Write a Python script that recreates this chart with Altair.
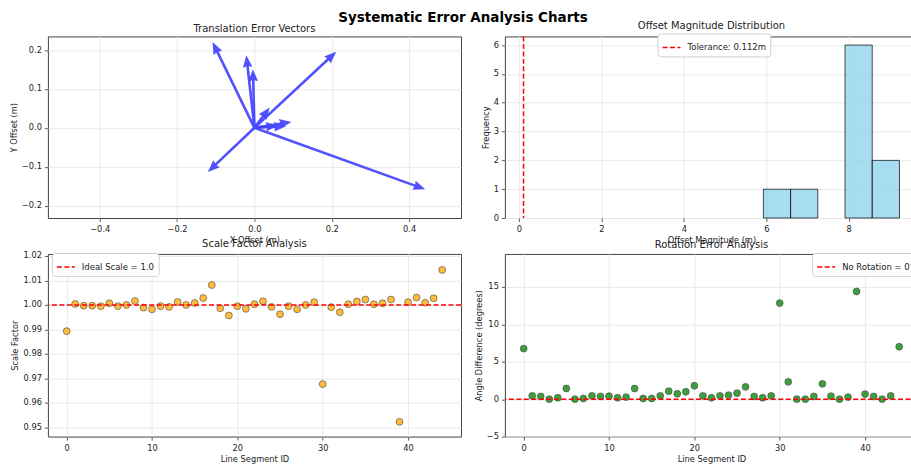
import altair as alt
import numpy as np
import pandas as pd

# ---------------- data ----------------
# translation error vectors (m), all drawn from the origin
vec_dx = [-0.108, -0.021, -0.004, 0.211, 0.039, 0.095, 0.081, 0.441, -0.120, 0.060]
vec_dy = [0.220, 0.186, 0.150, 0.195, 0.052, 0.015, 0.004, -0.158, -0.113, 0.006]

# offset magnitude histogram (m)
bin_start = [5.93, 6.59, 7.25, 7.91, 8.57]
bin_end = [6.59, 7.25, 7.91, 8.57, 9.23]
bin_count = [1, 1, 0, 6, 2]
tolerance = 0.112

segment_id = list(range(45))
scale_factor = [
    0.9893, 1.0004, 0.9997, 0.9997, 0.9995, 1.0007, 0.9995, 1.0000, 1.0016, 0.9989,
    0.9982, 0.9995, 0.9992, 1.0012, 1.0000, 1.0008, 1.0028, 1.0081, 0.9986, 0.9957,
    0.9995, 0.9984, 1.0003, 1.0015, 0.9992, 0.9962, 0.9995, 0.9982, 1.0000, 1.0011,
    0.9677, 0.9991, 0.9970, 1.0003, 1.0014, 1.0022, 1.0003, 1.0007, 1.0022, 0.9523,
    1.0011, 1.0030, 1.0009, 1.0027, 1.0143,
]
angle_diff = [
    6.75, 0.44, 0.36, 0.00, 0.18, 1.42, 0.00, 0.09, 0.44, 0.36,
    0.40, 0.18, 0.27, 1.42, 0.09, 0.09, 0.44, 1.07, 0.71, 0.98,
    1.78, 0.44, 0.18, 0.44, 0.53, 0.80, 1.64, 0.36, 0.18, 0.44,
    12.83, 2.31, 0.00, 0.00, 0.36, 2.04, 0.40, 0.00, 0.27, 14.38,
    0.67, 0.36, 0.00, 0.44, 7.01,
]
ideal_scale = 1.0
no_rotation = 0.0

FONT = "DejaVu Sans"
BLUE = "#4848ff"
GRID = "#e9e9e9"
TXT = "#222222"
W, H1, H2 = 414, 182, 183

def ax(values, fmt, title):
    return alt.Axis(values=values, format=fmt, title=title, grid=True, domain=False,
                    labelOverlap=False, titleColor=TXT, labelColor=TXT)

def legend(x, y):
    return alt.Legend(
        orient="none", legendX=x, legendY=y, title=None,
        symbolType="stroke", symbolDash=[5, 2.5], symbolStrokeWidth=1.5,
        symbolSize=324, labelFontSize=8.5, labelFont=FONT, labelColor=TXT,
        fillColor="white", strokeColor="#d0d0d0", cornerRadius=3, padding=4,
        labelOffset=6,
    )

# ---------------- panel 1: vectors ----------------
vdf = pd.DataFrame({"dx": vec_dx, "dy": vec_dy})
L = np.hypot(vdf.dx, vdf.dy)
vdf["x0"] = 0.0
vdf["y0"] = 0.0
vdf["hx"] = vdf.dx - 0.020 * vdf.dx / L
vdf["hy"] = vdf.dy - 0.020 * vdf.dy / L
vdf["sx"] = vdf.dx - 0.024 * vdf.dx / L
vdf["sy"] = vdf.dy - 0.024 * vdf.dy / L
vdf["ang"] = (np.degrees(np.arctan2(vdf.dx, vdf.dy)) + 360) % 360

xs1 = alt.Scale(domain=[-0.534, 0.534], nice=False, zero=False)
ys1 = alt.Scale(domain=[-0.232, 0.235], nice=False, zero=False)
xa1 = ax([-0.4, -0.2, 0.0, 0.2, 0.4], ".1f", "X Offset (m)")
ya1 = ax([-0.2, -0.1, 0.0, 0.1, 0.2], ".1f", "Y Offset (m)")
shafts = alt.Chart(vdf).mark_rule(color=BLUE, strokeWidth=2.6, opacity=0.95).encode(
    x=alt.X("x0:Q", scale=xs1, axis=xa1),
    y=alt.Y("y0:Q", scale=ys1, axis=ya1),
    x2="sx:Q", y2="sy:Q",
)
heads = alt.Chart(vdf).mark_point(
    shape="M0,-1L-0.6,0.5L0,0.35L0.6,0.5Z", filled=True, size=256, color=BLUE, opacity=0.95
).encode(
    x=alt.X("hx:Q", scale=xs1, axis=xa1),
    y=alt.Y("hy:Q", scale=ys1, axis=ya1),
    angle=alt.Angle("ang:Q", scale=alt.Scale(domain=[0, 360], range=[0, 360])),
)
p1 = alt.layer(shafts, heads).properties(
    width=W, height=H1, title="Translation Error Vectors"
)

# ---------------- panel 2: histogram ----------------
hdf = pd.DataFrame({"b0": bin_start, "b1": bin_end, "n": bin_count})
xs2 = alt.Scale(domain=[-0.34, 9.68], nice=False, zero=False)
ys2 = alt.Scale(domain=[0, 6.3], nice=False)
xa2 = ax([0, 2, 4, 6, 8], "d", "Offset Magnitude (m)")
ya2 = ax([0, 1, 2, 3, 4, 5, 6], "d", "Frequency")
bars = alt.Chart(hdf).transform_filter("datum.n > 0").mark_rect(
    fill="#87CEEB", fillOpacity=0.72, stroke="black", strokeOpacity=0.7, strokeWidth=1
).encode(
    x=alt.X("b0:Q", scale=xs2, axis=xa2),
    x2="b1:Q",
    y=alt.Y("n:Q", scale=ys2, axis=ya2),
    y2=alt.datum(0),
)
tdf = pd.DataFrame({"v": [tolerance], "lab": [f"Tolerance: {tolerance}m"]})
tol = alt.Chart(tdf).mark_rule(strokeDash=[5, 2.5], strokeWidth=1.5).encode(
    x=alt.X("v:Q", scale=xs2, axis=xa2),
    color=alt.Color("lab:N", scale=alt.Scale(range=["red"]), legend=legend(153, -3)),
)
p2 = alt.layer(bars, tol).properties(
    width=W, height=H1, title="Offset Magnitude Distribution"
)

# ---------------- panel 3: scale factor ----------------
sdf = pd.DataFrame({"id": segment_id, "s": scale_factor})
xs3 = alt.Scale(domain=[-2.2, 46.2], nice=False, zero=False)
ys3 = alt.Scale(domain=[0.9463, 1.0208], nice=False, zero=False)
xa3 = ax([0, 10, 20, 30, 40], "d", "Line Segment ID")
ya3 = ax([0.95, 0.96, 0.97, 0.98, 0.99, 1.00, 1.01, 1.02], ".2f", "Scale Factor")
pts3 = alt.Chart(sdf).mark_circle(
    size=48, color="orange", opacity=0.75, stroke="black", strokeWidth=0.8, strokeOpacity=0.7
).encode(
    x=alt.X("id:Q", scale=xs3, axis=xa3),
    y=alt.Y("s:Q", scale=ys3, axis=ya3),
)
idf = pd.DataFrame({"v": [ideal_scale], "lab": ["Ideal Scale = 1.0"]})
ideal = alt.Chart(idf).mark_rule(strokeDash=[5, 2.5], strokeWidth=1.5).encode(
    y=alt.Y("v:Q", scale=ys3, axis=ya3),
    color=alt.Color("lab:N", scale=alt.Scale(range=["red"]), legend=legend(4, -1)),
)
p3 = alt.layer(pts3, ideal).properties(
    width=W, height=H2, title="Scale Factor Analysis"
)

# ---------------- panel 4: rotation ----------------
rdf = pd.DataFrame({"id": segment_id, "a": angle_diff})
ys4 = alt.Scale(domain=[-5, 19.4], nice=False, zero=False)
ya4 = ax([-5, 0, 5, 10, 15], "d", "Angle Difference (degrees)")
pts4 = alt.Chart(rdf).mark_circle(
    size=48, color="green", opacity=0.75, stroke="black", strokeWidth=0.8, strokeOpacity=0.7
).encode(
    x=alt.X("id:Q", scale=xs3, axis=xa3),
    y=alt.Y("a:Q", scale=ys4, axis=ya4),
)
zdf = pd.DataFrame({"v": [no_rotation], "lab": ["No Rotation = 0°"]})
zero = alt.Chart(zdf).mark_rule(strokeDash=[5, 2.5], strokeWidth=1.5).encode(
    y=alt.Y("v:Q", scale=ys4, axis=ya4),
    color=alt.Color("lab:N", scale=alt.Scale(range=["red"]), legend=legend(308, -1)),
)
p4 = alt.layer(pts4, zero).properties(
    width=W, height=H2, title="Rotation Error Analysis"
)

chart = alt.concat(
    p1, p2, p3, p4, columns=2, spacing={"row": 36, "column": 44}, bounds="flush"
).resolve_scale(color="independent").properties(
    title=alt.TitleParams(
        "Systematic Error Analysis Charts", anchor="middle", fontSize=13.5,
        fontWeight="bold", font=FONT, color="black", offset=-4, dx=-1,
    ),
    padding={"left": 8, "top": 10, "right": -9, "bottom": 0},
).configure_view(
    stroke="#444", strokeWidth=1
).configure_axis(
    labelFont=FONT, labelFontSize=8.3, labelColor=TXT,
    titleFont=FONT, titleFontSize=8.3, titleFontWeight="normal", titleColor=TXT,
    tickColor="#333", tickSize=3.5, tickWidth=0.8, labelPadding=3,
    gridColor=GRID, gridWidth=1, titlePadding=3,
).configure_title(
    font=FONT, fontSize=10, fontWeight="normal", color=TXT, offset=2
)

chart.save("out.html", embed_options={"renderer": "svg", "actions": False})
